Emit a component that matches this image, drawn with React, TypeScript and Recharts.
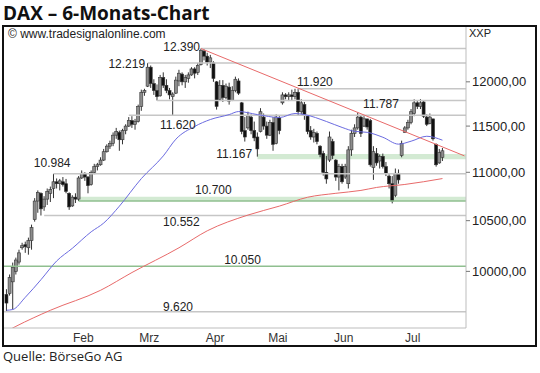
import React from 'react';
import { ComposedChart, Bar, Line, XAxis, YAxis, ReferenceLine, ReferenceArea, ReferenceDot } from 'recharts';

// daily OHLC, index 0 = mid January, 140 trading days up to end of July
const opens = [
  9780, 9790, 9900, 10000, 10090, 10230, 10260, 10230, 10300, 10510, 10700, 10780, 10640, 10720, 10780,
  10830, 10900, 10880, 10900, 10880, 10780, 10650, 10740, 10720, 10940, 10990, 10950, 10870, 11000, 11060,
  11080, 11130, 11220, 11280, 11310,
  11400, 11430, 11350, 11450, 11500, 11560, 11520, 11550, 11720, 11880, 11950, 12170, 11980, 11900, 11840,
  12050, 11960, 11900, 11830, 11870, 12010, 12090,
  12000, 12040, 12080, 12150, 12110, 12200, 12360, 12300, 12230, 12220, 12000, 11800, 11960, 11820, 11940,
  11790, 11900, 12010, 11760, 11450,
  11480, 11600, 11450, 11380, 11440, 11600, 11500, 11400, 11540, 11310, 11590, 11760, 11850, 11830, 11850,
  11830, 11880, 11660, 11740, 11610,
  11450, 11380, 11420, 11280, 11200, 11000, 11130, 11330, 11130, 10950, 11060, 10950, 10880, 11240, 11420,
  11480, 11600, 11500, 11580, 11560, 11050, 11200,
  11120, 11170, 11060, 10960, 10880, 10760, 10990, 11180, 11430, 11480, 11540, 11640, 11760, 11720, 11770,
  11600, 11530, 11580, 11300, 11100, 11160,
];
const highs = [
  9830, 9970, 10085, 10133, 10211, 10279, 10290, 10330, 10460, 10730, 10810, 10790, 10750, 10830, 10850,
  10984, 10935, 10930, 10950, 10930, 10790, 10760, 10780, 10960, 11020, 11000, 10960, 11020, 11090, 11100,
  11160, 11250, 11300, 11340, 11430,
  11480, 11450, 11470, 11520, 11600, 11610, 11580, 11740, 11910, 11920, 12219, 12190, 12030, 11970, 12080,
  12110, 12030, 11930, 11880, 12060, 12140, 12110,
  12080, 12110, 12170, 12170, 12220, 12390, 12380, 12340, 12315, 12240, 12010, 12020, 12020, 11980, 11990,
  11950, 12060, 12040, 11770, 11600,
  11660, 11630, 11550, 11430, 11700, 11640, 11550, 11570, 11600, 11630, 11610, 11880, 11870, 11880, 11910,
  11920, 11920, 11800, 11770, 11620,
  11500, 11470, 11440, 11290, 11230, 11175, 11440, 11360, 11140, 11090, 11090, 11090, 11280, 11460, 11520,
  11650, 11620, 11610, 11580, 11580, 11280, 11260,
  11190, 11200, 11110, 10980, 10960, 11040, 11030, 11340, 11500, 11570, 11690, 11800, 11780, 11802, 11780,
  11630, 11640, 11580, 11310, 11250, 11260,
];
const lows = [
  9625, 9770, 9640, 9970, 10065, 10211, 10180, 10162, 10211, 10490, 10580, 10552, 10600, 10660, 10690,
  10730, 10830, 10810, 10850, 10780, 10610, 10640, 10680, 10700, 10930, 10910, 10780, 10860, 10980, 11020,
  11070, 11120, 11210, 11250, 11280,
  11360, 11230, 11300, 11410, 11490, 11480, 11460, 11540, 11670, 11840, 11940, 11930, 11850, 11787, 11830,
  11930, 11870, 11800, 11620, 11860, 11950, 11960,
  11930, 11990, 12070, 12040, 12080, 12190, 12250, 12190, 12160, 12000, 11684, 11780, 11770, 11800, 11740,
  11780, 11880, 11850, 11410, 11330,
  11460, 11410, 11334, 11167, 11430, 11460, 11360, 11390, 11230, 11300, 11410, 11740, 11800, 11780, 11790,
  11800, 11620, 11630, 11570, 11410,
  11350, 11320, 11300, 11160, 10965, 10880, 11110, 11140, 10910, 10810, 10880, 10930, 10830, 11175, 11380,
  11460, 11380, 11490, 11460, 11060, 10920, 11070,
  11040, 11040, 10960, 10830, 10676, 10740, 10880, 11160, 11430, 11460, 11520, 11610, 11690, 11690, 11590,
  11500, 11520, 11340, 11060, 11090, 11120,
];
const closes = [
  9700, 9940, 10040, 10110, 10180, 10250, 10240, 10300, 10430, 10700, 10790, 10620, 10720, 10800, 10820,
  10900, 10880, 10910, 10870, 10800, 10640, 10740, 10720, 10940, 10990, 10950, 10860, 11000, 11060, 11080,
  11130, 11220, 11280, 11310, 11400,
  11440, 11350, 11450, 11500, 11560, 11520, 11550, 11720, 11880, 11900, 12170, 11980, 11900, 11830, 12050,
  11960, 11900, 11850, 11860, 12020, 12100, 12000,
  12050, 12080, 12150, 12100, 12190, 12370, 12300, 12230, 12280, 12040, 11720, 11960, 11820, 11950, 11780,
  11900, 12030, 11870, 11440, 11380,
  11620, 11450, 11370, 11250, 11660, 11500, 11400, 11540, 11300, 11600, 11450, 11850, 11830, 11850, 11830,
  11880, 11660, 11760, 11620, 11440,
  11380, 11430, 11330, 11190, 11000, 10930, 11380, 11180, 10950, 11060, 10900, 11060, 11240, 11420, 11480,
  11600, 11420, 11580, 11490, 11080, 11220, 11100,
  11170, 11060, 10990, 10880, 10700, 10990, 10920, 11310, 11480, 11540, 11660, 11760, 11720, 11760, 11610,
  11520, 11600, 11360, 11080, 11210, 11230,
];

// 38-day (blue) and 200-day (red) averages, read at [day index, value]
const avgShort: [number, number][] = [
  [0, 9633], [2, 9640], [6, 9754], [11, 9921], [16, 10101], [21, 10225], [27, 10388], [31, 10476],
  [36, 10648], [43, 10934], [50, 11175], [54, 11356], [60, 11496], [65, 11573], [71, 11628], [74, 11662],
  [80, 11628], [87, 11595], [92, 11640], [95, 11628], [102, 11551], [107, 11485], [111, 11442], [115, 11431],
  [120, 11377], [125, 11302], [129, 11334], [134, 11388], [139, 11345],
];
const avgLong: [number, number][] = [
  [0, 9440], [3, 9485], [14, 9633], [30, 9820], [40, 9989], [55, 10230], [64, 10398], [77, 10557],
  [87, 10648], [96, 10739], [105, 10780], [113, 10810], [118, 10841], [127, 10872], [139, 10934],
];

// falling trend line from the April top
const trend: [number, number][] = [[62, 12390], [146, 11175]];

// marked levels: value, first day index
const grayLevels: [number, number][] = [
  [12390, 62], [12219, 45], [11920, 93], [11787, 48], [11620, 39], [10984, 15], [10552, 12], [9620, -0.8],
];
const greenBands: [number, number, number][] = [[11140, 11195, 80], [10700, 10745, 23]];
const greenLevels: [number, number][] = [[10050, -0.8], [10700, 23]];

// level captions: text, day index, price, anchor
const captions: [string, number, number, 'start' | 'end'][] = [
  ['12.390', 61.7, 12415, 'end'],
  ['12.219', 44.2, 12208, 'end'],
  ['11.620', 48.9, 11518, 'start'],
  ['10.984', 8.7, 11100, 'start'],
  ['11.920', 92.6, 12000, 'start'],
  ['11.787', 113.7, 11751, 'start'],
  ['11.167', 78.3, 11196, 'end'],
  ['10.700', 60.1, 10820, 'start'],
  ['10.552', 49.9, 10486, 'start'],
  ['10.050', 69.4, 10114, 'start'],
  ['9.620', 49.9, 9661, 'start'],
];

const monthNames = ['Feb', 'Mrz', 'Apr', 'Mai', 'Jun', 'Jul'];
const monthMids = [24.5, 45.5, 66.5, 86.5, 107.5, 129.5];
const monthStarts = [14.5, 34.5, 56.5, 76.5, 96.5, 118.5];
const yTicks = [10000, 10500, 11000, 11500, 12000];

const X_MAX = 146.5;
const FONT = '"Liberation Sans", Arial, sans-serif';

const data = Array.from({ length: 147 }, (_, i) => {
  const row: any = { i };
  if (i < opens.length) {
    row.o = opens[i];
    row.h = highs[i];
    row.l = lows[i];
    row.c = closes[i];
    row.range = [lows[i], highs[i]];
  }
  return row;
});
avgShort.forEach(([i, v]) => (data[i].ma1 = v));
avgLong.forEach(([i, v]) => (data[i].ma2 = v));
trend.forEach(([i, v]) => (data[i].trend = v));

const Candle = (p: any) => {
  const { x, y, width, height, payload } = p;
  if (payload == null || payload.h == null) return <g />;
  const top = Math.min(y, y + height);
  const bot = Math.max(y, y + height);
  const lh = Math.log(payload.h);
  const ll = Math.log(payload.l);
  const toY = (v: number) => top + ((lh - Math.log(v)) / (lh - ll || 1)) * (bot - top);
  const cx = x + width / 2;
  const yo = toY(payload.o);
  const yc = toY(payload.c);
  const up = payload.c >= payload.o;
  const bt = Math.min(yo, yc);
  const bh = Math.max(Math.abs(yo - yc), 1);
  return (
    <g>
      <line x1={cx} x2={cx} y1={top} y2={bot} stroke="#333" strokeWidth={1} />
      <rect x={cx - 1.5} y={bt} width={3} height={bh} fill={up ? '#8c8c8c' : '#111'} stroke="#333" strokeWidth={0.6} />
    </g>
  );
};

const MonthTick = (p: any) => (
  <text x={p.x} y={p.y + 11} textAnchor="middle" fontSize={12} fontFamily={FONT} fill="#333">
    {monthNames[monthMids.indexOf(p.payload.value)]}
  </text>
);

export default function App() {
  return (
    <div style={{ position: 'absolute', left: 0, top: 0, width: 540, height: 373, background: '#fff', overflow: 'hidden' }}>
      <div style={{ position: 'absolute', left: 3, top: 0, fontFamily: '"Open Sans", sans-serif', fontWeight: 700, fontSize: 19, lineHeight: '26px', color: '#111' }}>
        DAX – 6-Monats-Chart
      </div>
      <ComposedChart width={540} height={373} data={data} margin={{ top: 27, right: 5, bottom: 28, left: 4 }}>
        <XAxis
          xAxisId={0}
          type="number"
          dataKey="i"
          domain={[-0.8, X_MAX]}
          allowDataOverflow
          ticks={monthStarts}
          tick={false}
          tickSize={3}
          tickLine={{ stroke: '#555' }}
          axisLine={{ stroke: '#bdbdbd' }}
          height={3}
        />
        <XAxis
          xAxisId="m"
          type="number"
          dataKey="i"
          domain={[-0.8, X_MAX]}
          allowDataOverflow
          ticks={monthMids}
          tick={<MonthTick />}
          tickLine={false}
          axisLine={false}
          tickSize={0}
          tickMargin={0}
          height={14}
        />
        <YAxis
          orientation="right"
          type="number"
          scale="log"
          domain={[9470, 12650]}
          allowDataOverflow
          ticks={yTicks}
          tickFormatter={(v: number) => `${v},00`}
          width={69}
          tickSize={4}
          tickMargin={2}
          tick={{ fontSize: 13, fontFamily: FONT, fill: '#222' }}
          tickLine={{ stroke: '#777' }}
          axisLine={{ stroke: '#bdbdbd' }}
        />
        {greenBands.map(([a, b, from]) => (
          <ReferenceArea key={'ga' + a} x1={from} x2={X_MAX} y1={a} y2={b} fill="#d3ead3" fillOpacity={1} stroke="none" />
        ))}
        {grayLevels.map(([v, from]) => (
          <ReferenceLine key={'gl' + v} segment={[{ x: from, y: v }, { x: X_MAX, y: v }]} stroke="#c6c6c6" strokeWidth={1.5} />
        ))}
        {greenLevels.map(([v, from]) => (
          <ReferenceLine key={'gn' + v} segment={[{ x: from, y: v }, { x: X_MAX, y: v }]} stroke="#8fbf8f" strokeWidth={1.5} />
        ))}
        <Line dataKey="ma2" type="monotone" stroke="#e86a6a" strokeWidth={1} dot={false} connectNulls isAnimationActive={false} />
        <Line dataKey="ma1" type="monotone" stroke="#6b6be0" strokeWidth={1} dot={false} connectNulls isAnimationActive={false} />
        <Bar dataKey="range" barSize={3} shape={<Candle />} isAnimationActive={false} />
        <Line dataKey="trend" type="linear" stroke="#e86a6a" strokeWidth={1} dot={false} connectNulls isAnimationActive={false} />
        {captions.map(([t, i, v, anchor]) => (
          <ReferenceDot
            key={t}
            x={i}
            y={v}
            r={0}
            shape={(p: any) => (
              <text x={p.cx} y={p.cy} dy="0.35em" textAnchor={anchor} fontSize={12} fontFamily={FONT} fill="#222">
                {t}
              </text>
            )}
          />
        ))}
      </ComposedChart>
      <div style={{ position: 'absolute', left: 8, top: 27, fontFamily: FONT, fontSize: 12, color: '#222' }}>© www.tradesignalonline.com</div>
      <div style={{ position: 'absolute', left: 469, top: 27, fontFamily: FONT, fontSize: 11, color: '#222' }}>XXP</div>
      <div style={{ position: 'absolute', left: 2, top: 25, width: 531, height: 318, border: '2px solid #111', pointerEvents: 'none' }} />
      <div style={{ position: 'absolute', left: 3, top: 347, fontFamily: '"Open Sans", sans-serif', fontSize: 13, color: '#222' }}>Quelle: BörseGo AG</div>
    </div>
  );
}
